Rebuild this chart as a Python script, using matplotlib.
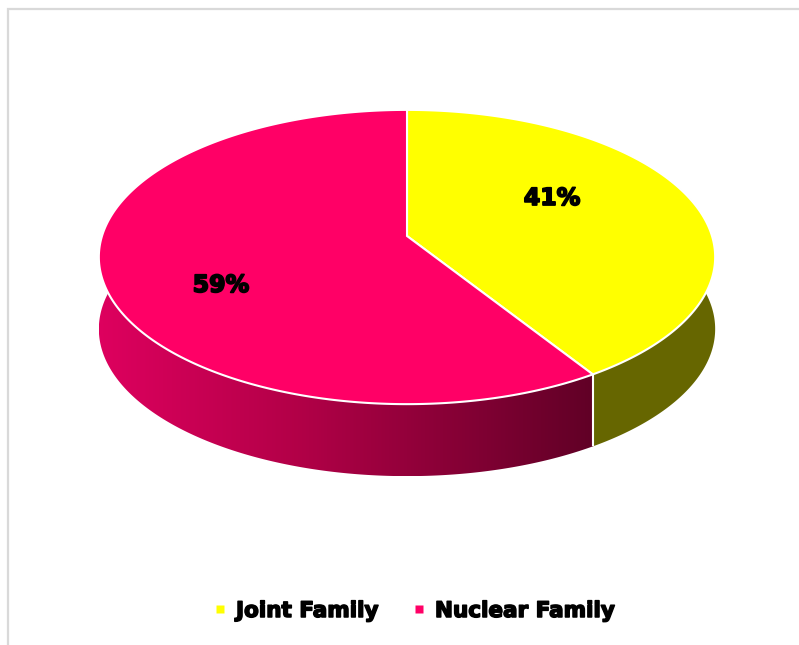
import numpy as np
import matplotlib.pyplot as plt
import matplotlib.patheffects as pe
from matplotlib.patches import Polygon
from matplotlib.lines import Line2D
from matplotlib.colors import LinearSegmentedColormap

# Household type shares (percent)
labels = ["Joint Family", "Nuclear Family"]
shares = [41, 59]
top_colors = ["#FFFF00", "#FF0066"]
label_pos = [(552, 198), (221, 285)]

W, H = 799, 645
fig = plt.figure(figsize=(W / 100, H / 100), dpi=100)
ax = fig.add_axes([0, 0, 1, 1])
ax.set_xlim(0, W)
ax.set_ylim(H, 0)
ax.axis("off")

# Perspective camera for the 3D pie top (unit radius disc)
cx, cy = 407, 236
tilt = np.deg2rad(28.2)
s, c = np.sin(tilt), np.cos(tilt)
dist0 = 6.17
focal = 305 * dist0
wall_px = 72  # screen height of the pie's side wall


def project(theta, r=1.0, drop=0.0):
    X = r * np.sin(theta)
    d = r * np.cos(theta)
    dist = dist0 + d * c
    return cx + focal * X / dist, cy - focal * d * s / dist + drop


fracs = np.array(shares, dtype=float) / np.sum(shares)
bounds = np.concatenate([[0], np.cumsum(fracs)]) * 2 * np.pi

# Side walls
side_patches = []
for i in range(len(shares)):
    th = np.linspace(bounds[i], bounds[i + 1], 400)
    tx, ty = project(th)
    bx, by = project(th, drop=wall_px)
    pts = np.column_stack([np.concatenate([tx, bx[::-1]]),
                           np.concatenate([ty, by[::-1]])])
    side_patches.append(pts)

# Joint family wall: flat olive shade
ax.add_patch(Polygon(side_patches[0], closed=True, facecolor="#666600",
                     edgecolor="none", zorder=1))

# Nuclear family wall: horizontal shading from light to dark
poly = Polygon(side_patches[1], closed=True, facecolor="none",
               edgecolor="none", zorder=1)
ax.add_patch(poly)
shade = LinearSegmentedColormap.from_list(
    "wall", [(0.0, (0.87, 0.0, 0.37)), (0.4, (0.70, 0.0, 0.28)),
             (1.0, (0.38, 0.0, 0.15))])
xs = side_patches[1][:, 0]
ys = side_patches[1][:, 1]
grad = np.linspace(0, 1, 512).reshape(1, -1)
im = ax.imshow(grad, cmap=shade, aspect="auto",
               extent=(xs.min(), xs.max(), ys.max(), ys.min()),
               zorder=1, interpolation="bilinear")
im.set_clip_path(poly)
ax.set_xlim(0, W)
ax.set_ylim(H, 0)

# Seam between the two walls
sx0, sy0 = project(bounds[1])
sx1, sy1 = project(bounds[1], drop=wall_px)
ax.plot([sx0, sx1], [sy0, sy1], color="white", lw=1.5, zorder=2,
        solid_capstyle="butt")

# Top faces
for i in range(len(shares)):
    th = np.linspace(bounds[i], bounds[i + 1], 400)
    tx, ty = project(th)
    ox, oy = project(0.0, r=0.0)
    pts = np.column_stack([np.concatenate([[ox], tx]),
                           np.concatenate([[oy], ty])])
    ax.add_patch(Polygon(pts, closed=True, facecolor=top_colors[i],
                         edgecolor="white", lw=1.5, joinstyle="miter",
                         zorder=3))

# Percentage labels
heavy = [pe.withStroke(linewidth=1.3, foreground="black")]
for v, (lx, ly) in zip(shares, label_pos):
    ax.text(lx, ly, f"{v}%", ha="center", va="center", fontsize=17,
            fontweight="bold", color="black", family="DejaVu Sans",
            zorder=5, path_effects=heavy)

# Legend
handles = [Line2D([], [], marker="s", linestyle="none", markersize=6,
                  markerfacecolor=col, markeredgecolor="none")
           for col in top_colors]
leg = ax.legend(handles, labels, loc="center",
                bbox_to_anchor=(414 / W, 1 - 611 / H),
                ncol=2, frameon=False, handlelength=0.6, handletextpad=0.45,
                columnspacing=1.6,
                prop={"family": "DejaVu Sans", "weight": "bold", "size": 15.5})
for t in leg.get_texts():
    t.set_path_effects([pe.withStroke(linewidth=1.1, foreground="black")])

# Chart frame
ax.plot([8, 8, W], [H, 9, 9], color="#d9d9d9", lw=1.6, zorder=0,
        solid_joinstyle="miter")

fig.savefig("out.png", dpi=100)
